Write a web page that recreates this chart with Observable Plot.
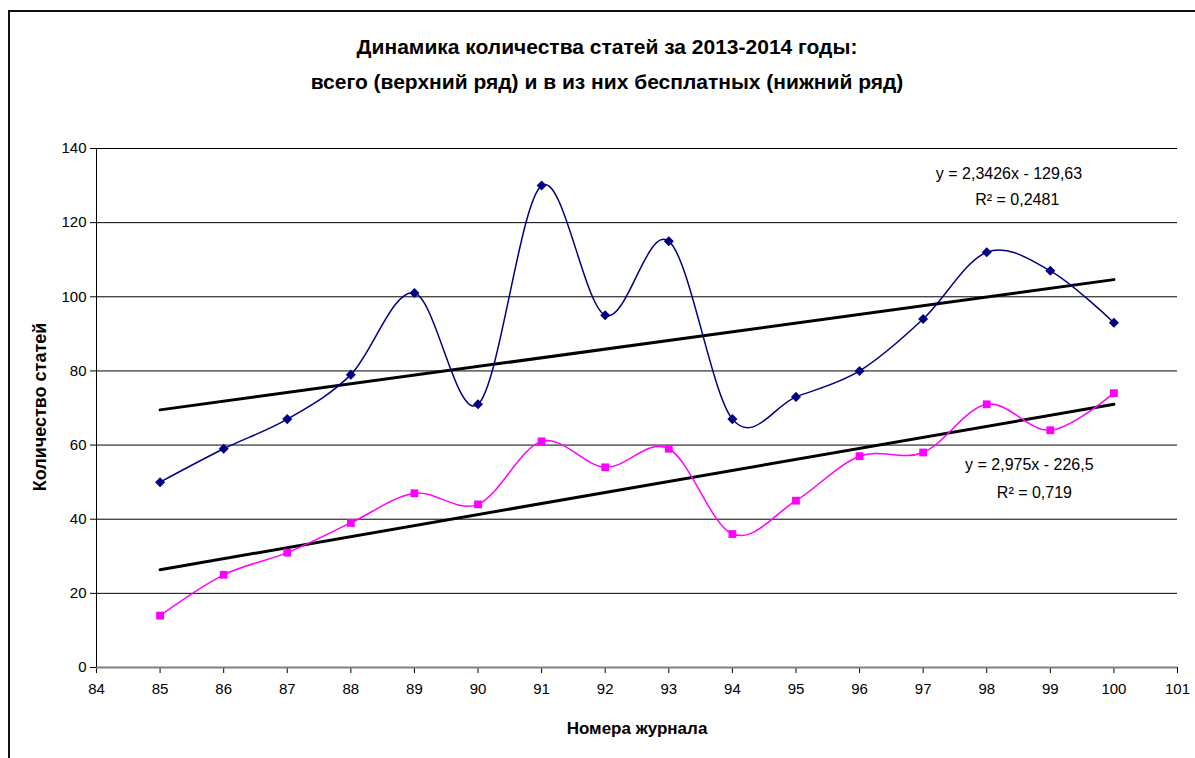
<!DOCTYPE html>
<html><head><meta charset="utf-8">
<script src="https://cdn.jsdelivr.net/npm/d3@7"></script>
<script src="https://cdn.jsdelivr.net/npm/@observablehq/plot@0.6"></script>
<style>
body{margin:0;background:#fff;font-family:"Liberation Sans",Arial,sans-serif;width:1195px;height:758px;overflow:hidden;position:relative;}
#frame{position:absolute;left:8px;top:10px;width:1300px;height:900px;border-top:2px solid #111;border-left:2px solid #111;}
#title{position:absolute;left:107px;top:29px;width:1000px;text-align:center;font-weight:bold;font-size:21px;line-height:35px;color:#000;}
#chart{position:absolute;left:0;top:120px;}
#xlabel{position:absolute;left:467px;top:719px;width:340px;text-align:center;font-weight:bold;font-size:17px;}
#ylabel{position:absolute;left:40px;top:407px;transform:translate(-50%,-50%) rotate(-90deg);white-space:nowrap;font-weight:bold;font-size:18px;}
</style></head>
<body>
<div id="frame"></div>
<div id="title">Динамика количества статей за 2013-2014 годы:<br>всего (верхний ряд) и в из них бесплатных (нижний ряд)</div>
<div id="chart"></div>
<div id="xlabel">Номера журнала</div>
<div id="ylabel">Количество статей</div>
<script>
const issues = [85, 86, 87, 88, 89, 90, 91, 92, 93, 94, 95, 96, 97, 98, 99, 100];
const totalArticles = [50, 59, 67, 79, 101, 71, 130, 95, 115, 67, 73, 80, 94, 112, 107, 93];
const freeArticles = [14, 25, 31, 39, 47, 44, 61, 54, 59, 36, 45, 57, 58, 71, 64, 74];
const xTicks = d3.range(84, 102);
const yTicks = [0, 20, 40, 60, 80, 100, 120, 140];
const eqLines = [
  {x: 98.35, y: 133.2, text: "y = 2,3426x - 129,63"},
  {x: 98.48, y: 126.2, text: "R² = 0,2481"},
  {x: 98.67, y: 54.6, text: "y = 2,975x - 226,5"},
  {x: 98.75, y: 47.0, text: "R² = 0,719"}
];

const total = issues.map((x, i) => ({x, y: totalArticles[i]}));
const free = issues.map((x, i) => ({x, y: freeArticles[i]}));

const diamond = {
  draw(ctx, size) {
    const s = Math.sqrt(size / 2);
    ctx.moveTo(0, -s); ctx.lineTo(s, 0); ctx.lineTo(0, s); ctx.lineTo(-s, 0); ctx.closePath();
  }
};

const plot = Plot.plot({
  width: 1195,
  height: 647,
  marginLeft: 96,
  marginRight: 18,
  marginTop: 28,
  marginBottom: 100,
  style: {fontFamily: "'Liberation Sans', Arial, sans-serif", fontSize: "15px", color: "#000", background: "transparent"},
  x: {domain: [84, 101], label: null},
  y: {domain: [0, 140], label: null},
  marks: [
    Plot.gridY(yTicks, {stroke: "#000", strokeOpacity: 1, strokeWidth: 1}),
    Plot.axisX({ticks: xTicks, tickSize: 6, tickPadding: 10, label: null, fontSize: 15, tickFormat: d => String(d)}),
    Plot.axisY({ticks: yTicks, tickSize: 6, tickPadding: 4, label: null, fontSize: 15}),
    Plot.ruleY([0], {stroke: "#808080", strokeWidth: 2}),
    Plot.ruleX([84], {stroke: "#000", strokeWidth: 1}),
    Plot.linearRegressionY(total, {x: "x", y: "y", stroke: "#000", strokeWidth: 3, ci: 0}),
    Plot.linearRegressionY(free, {x: "x", y: "y", stroke: "#000", strokeWidth: 3, ci: 0}),
    Plot.line(total, {x: "x", y: "y", curve: "cardinal", stroke: "#000080", strokeWidth: 1.5}),
    Plot.line(free, {x: "x", y: "y", curve: "cardinal", stroke: "#FF00FF", strokeWidth: 1.5}),
    Plot.dot(total, {x: "x", y: "y", symbol: diamond, fill: "#000080", r: 4}),
    Plot.dot(free, {x: "x", y: "y", symbol: "square", fill: "#FF00FF", r: 4.4}),
    Plot.text(eqLines, {x: "x", y: "y", text: "text", fontSize: 16, fill: "#000"})
  ]
});
document.getElementById("chart").appendChild(plot);
</script>
</body></html>
